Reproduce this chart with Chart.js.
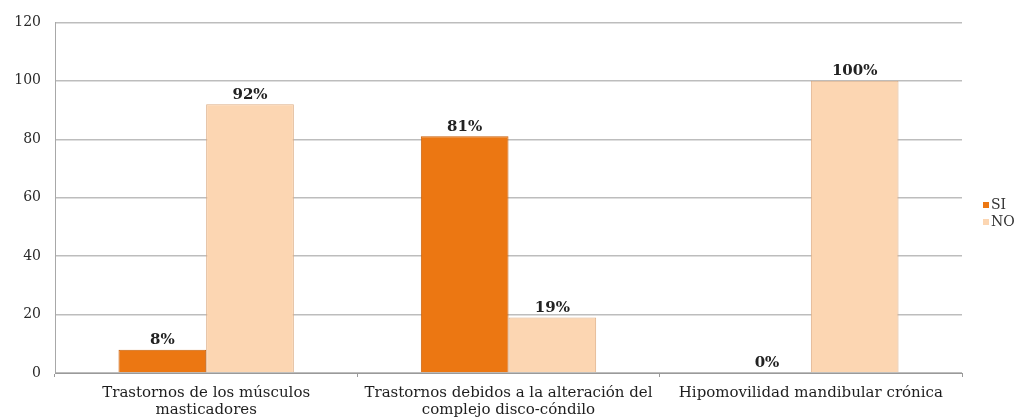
<!DOCTYPE html>
<html lang="es">
<head>
    <meta charset="UTF-8">
    <title>Trastornos temporomandibulares</title>
    <script src="https://cdn.jsdelivr.net/npm/chart.js"></script>
    <style>
        body {
            margin: 0;
            padding: 0;
            background: #ffffff;
        }

        .chart-box {
            position: relative;
            width: 1032px;
            height: 419px;
        }
    </style>
</head>
<body>
    <div class="chart-box">
        <canvas id="tmdChart"></canvas>
    </div>
    <script>
        const categories = [
            ['Trastornos de los músculos', 'masticadores'],
            ['Trastornos debidos a la alteración del', 'complejo disco-cóndilo'],
            ['Hipomovilidad mandibular crónica']
        ];
        const siValues = [8, 81, 0];
        const noValues = [92, 19, 100];
        const yTicks = [0, 20, 40, 60, 80, 100, 120];

        const serif = "'DejaVu Serif', 'Liberation Serif', serif";

        // percentage labels above each bar
        const barLabels = {
            id: 'barLabels',
            afterDatasetsDraw(chart) {
                const ctx = chart.ctx;
                ctx.save();
                ctx.font = 'bold 15px ' + serif;
                ctx.fillStyle = '#222';
                ctx.textAlign = 'center';
                ctx.textBaseline = 'bottom';
                chart.data.datasets.forEach((ds, i) => {
                    chart.getDatasetMeta(i).data.forEach((bar, j) => {
                        ctx.fillText(ds.data[j] + '%', bar.x, bar.y - 2);
                    });
                });
                ctx.restore();
            }
        };

        // small legend on the right, like the original
        const sideLegend = {
            id: 'sideLegend',
            afterDraw(chart) {
                const ctx = chart.ctx;
                ctx.save();
                ctx.font = '14px ' + serif;
                ctx.textBaseline = 'middle';
                chart.data.datasets.forEach((ds, i) => {
                    const y = 205 + i * 17;
                    ctx.fillStyle = ds.backgroundColor;
                    ctx.fillRect(983, y - 3, 6, 6);
                    ctx.fillStyle = '#333';
                    ctx.fillText(ds.label, 991, y);
                });
                ctx.restore();
            }
        };

        new Chart(document.getElementById('tmdChart'), {
            type: 'bar',
            data: {
                labels: categories,
                datasets: [
                    {
                        label: 'SI',
                        data: siValues,
                        backgroundColor: '#EC7712',
                        borderColor: '#C85F08',
                        borderWidth: 1
                    },
                    {
                        label: 'NO',
                        data: noValues,
                        backgroundColor: '#FCD6B2',
                        borderColor: '#DDAE86',
                        borderWidth: 1
                    }
                ]
            },
            options: {
                responsive: true,
                maintainAspectRatio: false,
                animation: false,
                layout: {
                    padding: { top: 20, right: 70, left: 0, bottom: 0 }
                },
                datasets: {
                    bar: {
                        categoryPercentage: 0.58,
                        barPercentage: 1
                    }
                },
                plugins: {
                    legend: { display: false },
                    tooltip: { enabled: false }
                },
                scales: {
                    x: {
                        afterFit(scale) { scale.height = 46; },
                        grid: {
                            drawOnChartArea: false,
                            drawTicks: true,
                            tickLength: 4,
                            color: '#9a9a9a'
                        },
                        border: { color: '#9a9a9a', width: 1 },
                        ticks: {
                            font: { family: serif, size: 15, lineHeight: 1.1 },
                            color: '#1e1e1e',
                            padding: 8,
                            maxRotation: 0,
                            autoSkip: false
                        }
                    },
                    y: {
                        min: 0,
                        max: 120,
                        afterFit(scale) { scale.width = 55; },
                        afterBuildTicks(scale) {
                            scale.ticks = yTicks.map(v => ({ value: v }));
                        },
                        grid: {
                            color: '#bdbdbd',
                            lineWidth: 1.5,
                            drawTicks: false
                        },
                        border: { color: '#a8a8a8', width: 1 },
                        ticks: {
                            font: { family: serif, size: 14 },
                            color: '#2a2a2a',
                            padding: 14
                        }
                    }
                }
            },
            plugins: [barLabels, sideLegend]
        });
    </script>
</body>
</html>
